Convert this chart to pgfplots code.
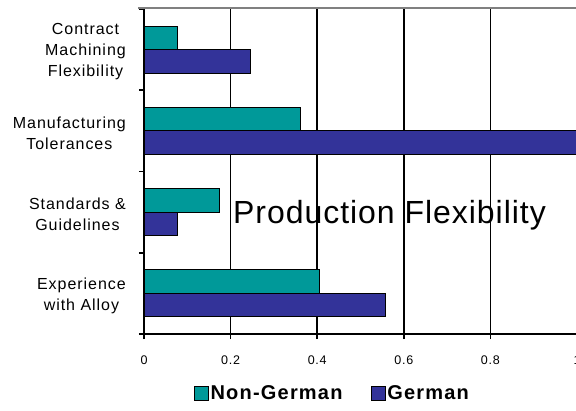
\documentclass[border=0pt]{standalone}
\usepackage{fontspec}
\setmainfont{Liberation Sans}
\newfontfamily\lsans[LetterSpace=6]{Liberation Sans}
\newfontfamily\lsbig[LetterSpace=3]{Liberation Sans}
\usepackage{pgfplots}
\pgfplotsset{compat=1.18}
\definecolor{ngteal}{RGB}{0,153,153}
\definecolor{gblue}{RGB}{51,51,153}

\begin{document}
\begin{tikzpicture}
% page frame: the plot runs to the right edge of the page
\useasboundingbox (-144pt,-76pt) rectangle (432pt,334pt);
\clip (-144pt,-76pt) rectangle (432pt,334pt);
\begin{axis}[
  at={(0pt,0pt)}, anchor=south west,
  scale only axis, width=433pt, height=325pt,
  xbar, bar width=23.5pt,
  xmin=0, xmax=1, ymin=-0.5, ymax=3.5,
  clip mode=individual,
  axis line style={draw=none},
  xtick={0,0.2,0.4,0.6,0.8,1},
  xticklabels={0,0.2,0.4,0.6,0.8,1},
  xtick pos=bottom, ytick pos=left,
  tick align=outside, major tick length=5pt,
  xmajorgrids,
  major x grid style={black, line width=1.4pt},
  xtick style={black, line width=1.4pt},
  ytick style={black, line width=1.6pt},
  ytick={-0.5,0.5,1.5,2.5,3.5}, yticklabels={},
  extra y ticks={0,1,2,3},
  extra y tick labels={{Experience\\with Alloy},{Standards \&\\Guidelines},{Manufacturing\\Tolerances},{Contract\\Machining\\Flexibility}},
  extra y tick style={major tick length=0pt},
  yticklabel style={align=center, inner sep=0pt, xshift=-18pt, yshift=-2pt,
    font=\lsans\fontsize{16}{21}\selectfont},
  xticklabel style={font=\lsans\fontsize{12.5}{15}\selectfont, yshift=-13pt},
  legend style={at={(0.435,-0.1815)}, anchor=center, draw=none, fill=none,
    legend columns=2, font=\lsans\bfseries\fontsize{20}{24}\selectfont,
    /tikz/every even column/.append style={column sep=26pt}},
  legend image code/.code={\draw[#1, draw=black, line width=0.8pt] (-4pt,-7pt) rectangle (10pt,7pt);},
]
\addplot[fill=ngteal, draw=black, line width=0.8pt, bar shift=11.75pt]
  coordinates {(0.405,0) (0.173,1) (0.362,2) (0.078,3)};
\addplot[fill=gblue, draw=black, line width=0.8pt, bar shift=-11.75pt]
  coordinates {(0.557,0) (0.076,1) (1,2) (0.245,3)};
\legend{Non-German, German}

% chart title set inside the plot area
\node[anchor=base, font=\lsbig\fontsize{32}{36}\selectfont] at (axis cs:0.567,0.866) {Production Flexibility};

% frame: grey top rule, heavy left and bottom axis lines
\draw[black!50, line width=2pt] ([xshift=-6pt,yshift=1pt]rel axis cs:0,1) -- ([yshift=1pt]rel axis cs:1,1);
\draw[black, line width=2.2pt] (rel axis cs:0,1) -- (rel axis cs:0,0) -- (rel axis cs:1,0);
\end{axis}
\end{tikzpicture}
\end{document}
